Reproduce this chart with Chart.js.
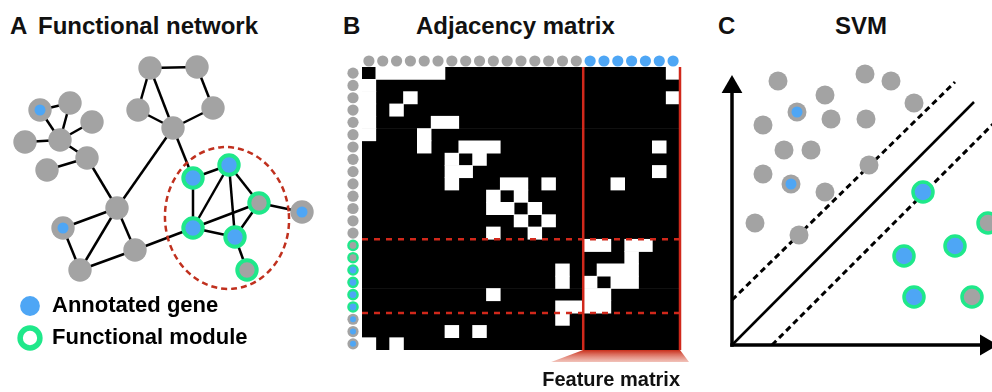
<!DOCTYPE html>
<html>
<head>
<meta charset="utf-8">
<script src="https://cdn.jsdelivr.net/npm/chart.js@4.4.0/dist/chart.umd.min.js"></script>
<style>
  html, body { margin: 0; padding: 0; background: #fff; }
  body { width: 992px; height: 392px; position: relative; overflow: hidden;
         font-family: "Liberation Sans", Arial, sans-serif; }
  .lbl { position: absolute; font-weight: bold; font-size: 24px; line-height: 24px; color: #111; white-space: nowrap; }
  .box { position: absolute; }
</style>
</head>
<body>
<div class="lbl" style="left:10px;top:14px">A</div>
<div class="lbl" style="left:38px;top:14px">Functional network</div>
<div class="lbl" style="left:343px;top:14px">B</div>
<div class="lbl" style="left:416px;top:14px">Adjacency matrix</div>
<div class="lbl" style="left:718px;top:14px">C</div>
<div class="lbl" style="left:835px;top:14px">SVM</div>

<div class="box" style="left:0;top:40px;width:330px;height:319px"><canvas id="net"></canvas></div>
<div class="box" style="left:340px;top:50px;width:352px;height:350px"><canvas id="adj"></canvas></div>
<div class="box" style="left:700px;top:40px;width:292px;height:320px"><canvas id="svm"></canvas></div>

<script>
const FONT = '"Liberation Sans", Arial, sans-serif';
const GRAY = "#a3a3a3";
const BLUE = "#4ea6f5";
const GREEN = "#1fe88a";
const RED = "#d0281b";

// ---- A: functional network (layout units) ----
const nodePos = [
  [150, 28], [197, 27], [138, 70], [213, 68], [173, 88],
  [40, 70], [70, 63], [92, 82], [25, 102], [60, 100], [87, 118], [47, 130],
  [117, 168], [63, 188], [80, 230], [135, 210],
  [193, 138], [229, 125], [259, 163], [193, 188], [235, 197], [247, 230],
  [302, 172],
];
const nodeKind = [
  "plain", "plain", "plain", "plain", "plain",
  "annotated", "plain", "plain", "plain", "plain", "plain", "plain",
  "plain", "annotated", "plain", "plain",
  "moduleAnnotated", "moduleAnnotated", "module", "moduleAnnotated", "moduleAnnotated", "module",
  "annotated",
];
const edges = [
  [0, 1], [0, 2], [0, 4], [1, 3], [2, 4], [3, 4],
  [5, 6], [5, 9], [6, 9], [7, 9], [8, 9], [9, 10], [10, 11],
  [10, 12], [4, 12], [12, 13], [12, 14], [12, 15], [13, 14], [14, 15],
  [15, 19], [4, 16], [16, 17], [16, 19], [17, 19], [17, 20], [17, 18],
  [19, 18], [19, 20], [20, 18], [20, 21], [18, 22],
];
const moduleEllipse = { cx: 227, cy: 178, rx: 62, ry: 71, tilt: -0.08 };

// ---- B: adjacency matrix ----
const colKinds = [
  "plain", "plain", "plain", "plain", "plain", "plain", "plain", "plain",
  "plain", "plain", "plain", "plain", "plain", "plain", "plain", "plain",
  "annotated", "annotated", "annotated", "annotated", "annotated", "annotated", "annotated",
];
const rowKinds = [
  "plain", "plain", "plain", "plain", "plain", "plain", "plain",
  "plain", "plain", "plain", "plain", "plain", "plain", "plain",
  "module", "module", "moduleAnnotated", "moduleAnnotated", "moduleAnnotated", "moduleAnnotated",
  "annotated", "annotated", "annotated",
];
const whiteCells = [
  [1, 2, 3, 4, 5, 22],
  [0],
  [0, 3, 22],
  [0, 2],
  [0, 5, 6],
  [0, 4],
  [4, 7, 8, 9, 21],
  [6, 8],
  [6, 7, 21],
  [6, 10, 11, 13, 18],
  [9, 11],
  [9, 10, 12],
  [11, 13],
  [9, 12],
  [16, 17, 19, 20],
  [19],
  [14, 17, 18, 19],
  [14, 16, 18, 19],
  [9, 16, 17],
  [14, 15, 16, 17],
  [14],
  [6, 8],
  [0, 2],
];
const featureStart = 16;
const rowBreaks = [14, 20];

// ---- C: SVM ----
const svmGray = [
  [46, 264], [133, 271], [159, 264], [182, 242], [93, 250], [31, 220], [99, 226],
  [134, 226], [52, 195], [79, 195], [31, 171], [93, 153], [137, 180], [23, 122], [67, 110],
];
const svmAnnotated = [[65, 233], [59, 161]];
const svmModuleBlue = [[191, 153], [223, 99], [172, 89], [182, 48]];
const svmModuleGray = [[256, 122], [240, 48]];
const hyperplane = [[0, 0], [242, 243]];
const marginUpper = [[0, 45], [223, 263]];
const marginLower = [[40, 0], [262, 222]];

const xy = (p) => ({ x: p[0], y: p[1] });

function circle(ctx, x, y, r, fill, stroke, lw) {
  ctx.beginPath();
  ctx.arc(x, y, r, 0, Math.PI * 2);
  if (fill) { ctx.fillStyle = fill; ctx.fill(); }
  if (stroke) { ctx.strokeStyle = stroke; ctx.lineWidth = lw; ctx.stroke(); }
}

Chart.defaults.font.family = FONT;
Chart.defaults.animation = false;
Chart.defaults.events = [];
Chart.defaults.plugins.tooltip.enabled = false;

// ---------- A ----------
const nodesOf = (kinds) => nodePos.filter((p, i) => kinds.includes(nodeKind[i])).map(xy);

const moduleOutline = {
  id: "moduleOutline",
  afterDatasetsDraw(chart) {
    const { ctx, scales: { x, y } } = chart;
    const cx = x.getPixelForValue(moduleEllipse.cx);
    const cy = y.getPixelForValue(moduleEllipse.cy);
    const rx = Math.abs(x.getPixelForValue(moduleEllipse.cx + moduleEllipse.rx) - cx);
    const ry = Math.abs(y.getPixelForValue(moduleEllipse.cy + moduleEllipse.ry) - cy);
    ctx.save();
    ctx.beginPath();
    ctx.ellipse(cx, cy, rx, ry, moduleEllipse.tilt, 0, Math.PI * 2);
    ctx.setLineDash([6, 4]);
    ctx.lineWidth = 2.5;
    ctx.strokeStyle = "#c0301e";
    ctx.stroke();
    ctx.restore();
  },
};

new Chart(document.getElementById("net"), {
  type: "scatter",
  data: {
    datasets: [
      {
        label: "annotated centre",
        data: nodesOf(["annotated"]),
        pointRadius: 5.5,
        pointBackgroundColor: BLUE,
        pointBorderWidth: 0,
        order: 0,
      },
      {
        label: "module",
        data: nodesOf(["module", "moduleAnnotated"]),
        pointRadius: 9.7,
        pointBackgroundColor: nodePos
          .map((p, i) => nodeKind[i])
          .filter((k) => k.startsWith("module"))
          .map((k) => (k === "moduleAnnotated" ? BLUE : GRAY)),
        pointBorderColor: GREEN,
        pointBorderWidth: 4,
        order: 0,
      },
      {
        label: "genes",
        data: nodesOf(["plain", "annotated"]),
        pointRadius: 11.7,
        pointBackgroundColor: GRAY,
        pointBorderWidth: 0,
        order: 1,
      },
      ...edges.map(([a, b]) => ({
        label: "edge",
        data: [xy(nodePos[a]), xy(nodePos[b])],
        showLine: true,
        borderColor: "#000",
        borderWidth: 2.5,
        pointRadius: 0,
        order: 2,
      })),
    ].map((d) => ({ ...d, clip: false })),
  },
  options: {
    responsive: true,
    maintainAspectRatio: false,
    layout: { autoPadding: false, padding: { left: 9, right: 0, top: 0, bottom: 0 } },
    scales: {
      x: { display: false, min: 9, max: 330 },
      y: { display: false, min: 0, max: 245, reverse: true },
    },
    plugins: {
      legend: {
        display: true,
        position: "bottom",
        align: "start",
        onClick: null,
        labels: {
          usePointStyle: true,
          boxHeight: 14,
          padding: 10,
          color: "#111",
          font: { family: FONT, size: 22, weight: "bold" },
          generateLabels: () => [
            { text: "Annotated gene", fillStyle: BLUE, strokeStyle: BLUE, lineWidth: 0, pointStyle: "circle", hidden: false },
            { text: "Functional module", fillStyle: "#fff", strokeStyle: GREEN, lineWidth: 5.5, pointStyle: "circle", hidden: false },
          ],
        },
      },
    },
  },
  plugins: [moduleOutline],
});

// ---------- B ----------
const runsByRow = whiteCells.map((cells) => {
  const runs = [];
  cells.forEach((c) => {
    const last = runs[runs.length - 1];
    if (last && last[1] === c) last[1] = c + 1;
    else runs.push([c, c + 1]);
  });
  return runs;
});
const maxRuns = Math.max(...runsByRow.map((r) => r.length));
const cellStyle = { grouped: false, barPercentage: 1, categoryPercentage: 1, borderWidth: 0 };

const matrixDecor = {
  id: "matrixDecor",
  afterDatasetsDraw(chart) {
    const { ctx, chartArea: ca, scales: { x, y } } = chart;
    ctx.save();
    // feature matrix frame
    ctx.strokeStyle = RED;
    ctx.lineWidth = 2.5;
    [featureStart, colKinds.length].forEach((c) => {
      const px = x.getPixelForValue(c);
      ctx.beginPath();
      ctx.moveTo(px, ca.top);
      ctx.lineTo(px, ca.bottom);
      ctx.stroke();
    });
    // functional module rows
    ctx.setLineDash([6, 6]);
    rowBreaks.forEach((r) => {
      const py = (y.getPixelForValue(r - 1) + y.getPixelForValue(r)) / 2;
      ctx.beginPath();
      ctx.moveTo(ca.left, py);
      ctx.lineTo(x.getPixelForValue(colKinds.length), py);
      ctx.stroke();
    });
    ctx.restore();
  },
  afterDraw(chart) {
    const { ctx, chartArea: ca, scales: { x, y } } = chart;
    ctx.save();
    colKinds.forEach((k, i) => {
      circle(ctx, x.getPixelForValue(i + 0.5), ca.top - 6, 5.6, k === "annotated" ? BLUE : GRAY);
    });
    rowKinds.forEach((k, i) => {
      const py = y.getPixelForValue(i);
      const px = ca.left - 9;
      if (k === "plain") circle(ctx, px, py, 5.6, GRAY);
      else if (k === "annotated") { circle(ctx, px, py, 5.6, GRAY); circle(ctx, px, py, 3, BLUE); }
      else circle(ctx, px, py, 4.6, k === "moduleAnnotated" ? BLUE : GRAY, GREEN, 2.4);
    });
    // funnel under the feature columns
    const x0 = x.getPixelForValue(featureStart);
    const x1 = x.getPixelForValue(colKinds.length);
    const g = ctx.createLinearGradient(0, ca.bottom, 0, ca.bottom + 12);
    g.addColorStop(0, "rgba(200,45,25,1)");
    g.addColorStop(1, "rgba(225,120,100,0.45)");
    ctx.fillStyle = g;
    ctx.beginPath();
    ctx.moveTo(x0, ca.bottom);
    ctx.lineTo(x1, ca.bottom);
    ctx.lineTo(x1 + 9, ca.bottom + 12);
    ctx.lineTo(x0 - 32, ca.bottom + 12);
    ctx.closePath();
    ctx.fill();
    ctx.restore();
  },
};

new Chart(document.getElementById("adj"), {
  type: "bar",
  data: {
    labels: rowKinds.map((k, i) => "gene " + (i + 1)),
    datasets: [
      ...Array.from({ length: maxRuns }, (_, k) => ({
        label: "edge " + k,
        data: runsByRow.map((r) => r[k] || null),
        backgroundColor: "#fff",
        order: 0,
        ...cellStyle,
      })),
      {
        label: "no edge",
        data: rowKinds.map(() => [0, colKinds.length]),
        backgroundColor: "#000",
        order: 1,
        ...cellStyle,
      },
    ],
  },
  options: {
    indexAxis: "y",
    responsive: true,
    maintainAspectRatio: false,
    layout: { padding: { left: 22, right: 12, top: 17, bottom: 0 } },
    scales: {
      x: {
        min: 0,
        max: colKinds.length,
        grid: { display: false, drawTicks: false },
        border: { display: false },
        ticks: { display: false },
        title: {
          display: true,
          text: "Feature matrix",
          align: "end",
          color: "#111",
          font: { family: FONT, size: 20, weight: "bold" },
          padding: { top: 18, bottom: 8 },
        },
      },
      y: { display: false },
    },
    plugins: { legend: { display: false } },
  },
  plugins: [matrixDecor],
});

// ---------- C ----------
const axisStyle = {
  showLine: true,
  borderColor: "#000",
  borderWidth: 3.5,
  borderCapStyle: "square",
  pointStyle: "triangle",
  pointRadius: [0, 12],
  pointBackgroundColor: "#000",
  pointBorderWidth: 0,
  order: 3,
};

new Chart(document.getElementById("svm"), {
  type: "scatter",
  data: {
    datasets: [
      { label: "annotated centre", data: svmAnnotated.map(xy), pointRadius: 5.5, pointBackgroundColor: BLUE, pointBorderWidth: 0, order: 0 },
      { label: "module annotated", data: svmModuleBlue.map(xy), pointRadius: 10, pointBackgroundColor: BLUE, pointBorderColor: GREEN, pointBorderWidth: 3.5, order: 0 },
      { label: "module", data: svmModuleGray.map(xy), pointRadius: 10, pointBackgroundColor: GRAY, pointBorderColor: GREEN, pointBorderWidth: 3.5, order: 0 },
      { label: "genes", data: svmGray.concat(svmAnnotated).map(xy), pointRadius: 9.5, pointBackgroundColor: GRAY, pointBorderWidth: 0, order: 1 },
      { label: "hyperplane", data: hyperplane.map(xy), showLine: true, borderColor: "#000", borderWidth: 2.5, pointRadius: 0, order: 2 },
      { label: "margin", data: marginUpper.map(xy), showLine: true, borderColor: "#000", borderWidth: 3, borderDash: [6, 4], pointRadius: 0, order: 2 },
      { label: "margin", data: marginLower.map(xy), showLine: true, borderColor: "#000", borderWidth: 3, borderDash: [6, 4], pointRadius: 0, order: 2 },
      { label: "y axis", data: [{ x: 0, y: 0 }, { x: 0, y: 258 }], pointRotation: 0, ...axisStyle },
      { label: "x axis", data: [{ x: 0, y: 0 }, { x: 254, y: 0 }], pointRotation: 90, ...axisStyle },
    ].map((d) => ({ ...d, clip: false })),
  },
  options: {
    responsive: true,
    maintainAspectRatio: false,
    layout: { autoPadding: false, padding: 0 },
    scales: {
      x: { display: false, min: -32, max: 260 },
      y: { display: false, min: -15, max: 305 },
    },
    plugins: { legend: { display: false } },
  },
});
</script>
</body>
</html>
